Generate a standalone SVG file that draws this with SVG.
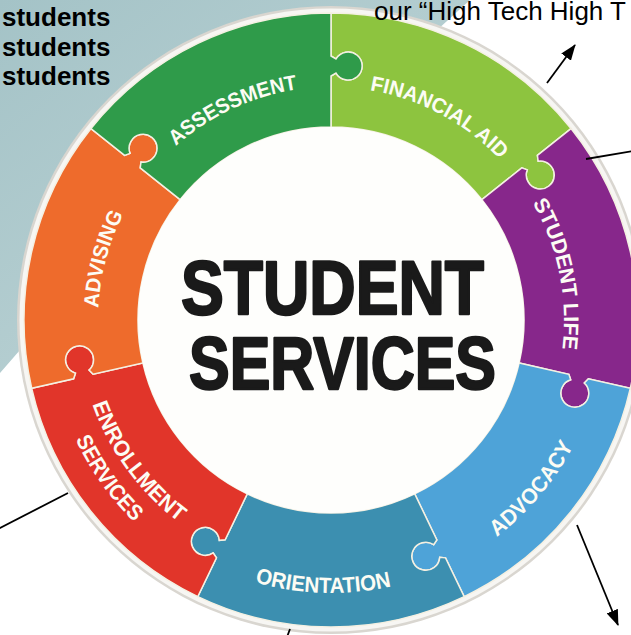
<svg xmlns="http://www.w3.org/2000/svg" width="631" height="635" viewBox="0 0 631 635">
<defs>
<linearGradient id="bg" x1="0" y1="0" x2="1" y2="1">
<stop offset="0" stop-color="#a4c3c7"/>
<stop offset="1" stop-color="#c3d7d9"/>
</linearGradient>
<path id="seg" d="M 0 -307 A 307 307 0 0 1 240.02 -191.41 L 206.40 -164.60 L 207.18 -158.82 A 14 14 0 1 1 196.23 -150.09 L 190.77 -152.13 L 150.89 -120.33 A 193 193 0 0 0 0 -193 L 0 -244 L 5 -247 A 14 14 0 1 0 5 -261 L 0 -264 Z"/>
<path id="tp233" d="M -201.8 -116.5 A 233 233 0 0 1 201.8 -116.5"/>
<path id="bp273" d="M -236.4 136.5 A 273 273 0 0 0 236.4 136.5"/>
<path id="bp253" d="M -219.1 126.5 A 253 253 0 0 0 219.1 126.5"/>
<path id="bp282" d="M -244.2 141 A 282 282 0 0 0 244.2 141"/>
<marker id="ah" viewBox="0 0 16 12" refX="15" refY="6" markerWidth="16" markerHeight="12" markerUnits="userSpaceOnUse" orient="auto">
<path d="M0 0 L16 6 L0 12 z" fill="#000"/>
</marker>
</defs>
<style>
.seg{stroke:#f4f0e2;stroke-width:1.5;}
.lbl{font-family:"Liberation Sans",Arial,sans-serif;font-weight:bold;fill:#fcfcf4;text-anchor:middle;}
.big{font-family:"Liberation Sans",Arial,sans-serif;font-weight:bold;fill:#1a1a1a;stroke:#1a1a1a;stroke-width:2.4;stroke-linejoin:round;}
.note{font-family:"Liberation Sans",Arial,sans-serif;font-size:26px;fill:#000;}
.conn{stroke:#000;stroke-width:1.8;fill:none;}
</style>
<rect width="631" height="635" fill="#ffffff"/>
<polygon points="0,0 470,0 447,21 250,200 20,350 0,373" fill="url(#bg)"/>
<g id="wheel" transform="translate(331 320)">
<circle r="314" fill="#d9d6d0"/>
<circle r="311.5" fill="#f7f6f3"/>
<g id="financial-aid">
<use href="#seg" class="seg" fill="#8dc43f"/>
<text class="lbl" font-size="21" transform="rotate(28)"><textPath href="#tp233" startOffset="50%" textLength="150" lengthAdjust="spacingAndGlyphs">FINANCIAL AID</textPath></text>
</g>
<g id="student-life">
<use href="#seg" class="seg" fill="#87278b" transform="rotate(51.4286)"/>
<text class="lbl" font-size="21" transform="rotate(78.5)"><textPath href="#tp233" startOffset="50%" textLength="152" lengthAdjust="spacingAndGlyphs">STUDENT LIFE</textPath></text>
</g>
<g id="advocacy">
<use href="#seg" class="seg" fill="#4ea3d8" transform="rotate(102.857)"/>
<text class="lbl" font-size="22" transform="rotate(-50)"><textPath href="#bp273" startOffset="50%" textLength="120" lengthAdjust="spacingAndGlyphs">ADVOCACY</textPath></text>
</g>
<g id="orientation">
<use href="#seg" class="seg" fill="#3c8fb0" transform="rotate(154.286)"/>
<text class="lbl" font-size="22" transform="rotate(1.7)"><textPath href="#bp273" startOffset="50%" textLength="138" lengthAdjust="spacingAndGlyphs">ORIENTATION</textPath></text>
</g>
<g id="enrollment-services">
<use href="#seg" class="seg" fill="#e1352a" transform="rotate(205.714)"/>
<text class="lbl" font-size="22" transform="rotate(53.8)"><textPath href="#bp253" startOffset="50%" textLength="148" lengthAdjust="spacingAndGlyphs">ENROLLMENT</textPath></text>
<text class="lbl" font-size="22" transform="rotate(54.6)"><textPath href="#bp282" startOffset="50%" textLength="102" lengthAdjust="spacingAndGlyphs">SERVICES</textPath></text>
</g>
<g id="advising">
<use href="#seg" class="seg" fill="#ee6b2c" transform="rotate(257.143)"/>
<text class="lbl" font-size="21" transform="rotate(285)"><textPath href="#tp233" startOffset="50%" textLength="98" lengthAdjust="spacingAndGlyphs">ADVISING</textPath></text>
</g>
<g id="assessment">
<use href="#seg" class="seg" fill="#2f9b4a" transform="rotate(308.571)"/>
<text class="lbl" font-size="21" transform="rotate(-25)"><textPath href="#tp233" startOffset="50%" textLength="136" lengthAdjust="spacingAndGlyphs">ASSESSMENT</textPath></text>
</g>
<g id="center">
<circle r="193" fill="#fefefc"/>
<text class="big" x="-150" y="-6" font-size="76" textLength="303" lengthAdjust="spacingAndGlyphs">STUDENT</text>
<text class="big" x="-142" y="69" font-size="75" textLength="307" lengthAdjust="spacingAndGlyphs">SERVICES</text>
</g>
</g>
<g id="notes">
<text class="note" font-weight="bold" x="2" y="26">students</text>
<text class="note" font-weight="bold" x="2" y="55.5">students</text>
<text class="note" font-weight="bold" x="2" y="85">students</text>
<text class="note" x="374" y="20">our “High Tech High T</text>
</g>
<g id="connectors" class="conn">
<line x1="547" y1="83" x2="575" y2="45" marker-end="url(#ah)"/>
<line x1="586" y1="159" x2="633" y2="151"/>
<line x1="577" y1="525" x2="618" y2="625" marker-end="url(#ah)"/>
<line x1="68" y1="493" x2="-2" y2="529"/>
<line x1="290" y1="629" x2="287" y2="637"/>
</g>
</svg>
